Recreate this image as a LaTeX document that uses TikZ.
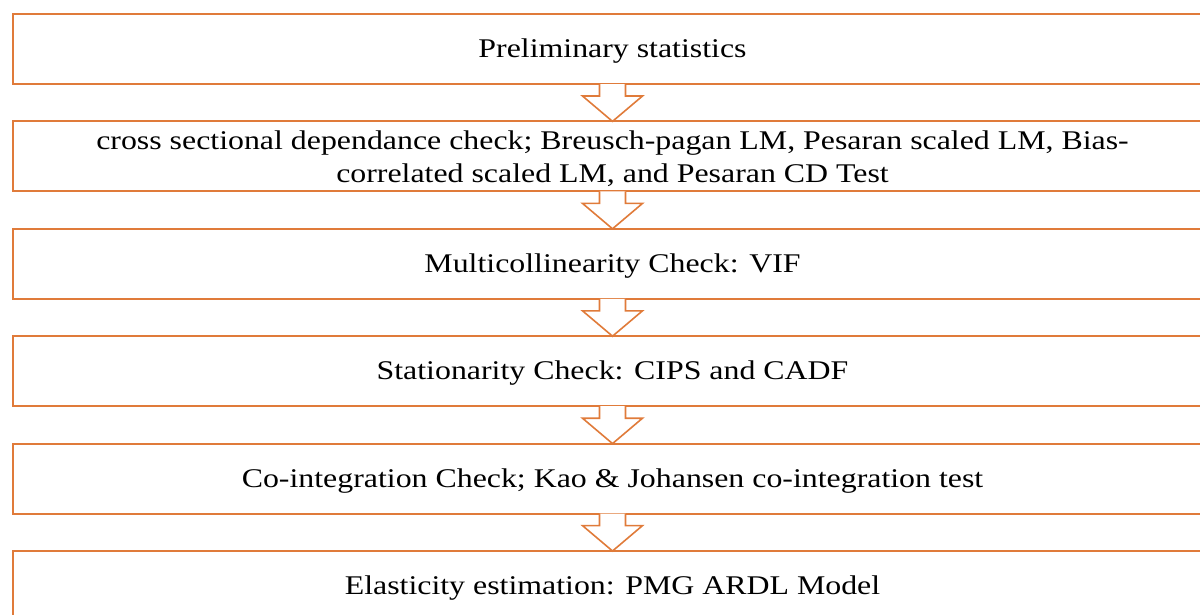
\documentclass[tikz,border=0pt]{standalone}
\usepackage{fontspec}
\usepackage{graphicx}
\setmainfont{Liberation Serif}
\usetikzlibrary{calc}
\definecolor{boxorange}{HTML}{E07B3A}
\newcommand{\widetext}[1]{\raisebox{-2pt}[\height][\depth]{\scalebox{1.18}[1]{#1}}}
\begin{document}
\begin{tikzpicture}[x=1pt,y=-1pt,
  stepbox/.style={draw=boxorange, line width=2pt, rectangle, minimum width=1200pt, minimum height=70pt, inner sep=0pt, outer sep=0pt, align=center, font=\fontsize{27}{33}\selectfont},
  flowarrow/.style={draw=boxorange, line width=1.6pt, fill=white, line join=miter}]
\useasboundingbox (0,0) rectangle (1200,614);
\clip (0,0) rectangle (1200,614);
\node[stepbox] (b1) at (612.5,49) {\widetext{Preliminary statistics}};
\node[stepbox] (b2) at (612.5,156.4) {\widetext{cross sectional dependance check; Breusch-pagan LM, Pesaran scaled LM, Bias-}\\\widetext{correlated scaled LM, and Pesaran CD Test}};
\node[stepbox] (b3) at (612.5,263.8) {\widetext{Multicollinearity Check: VIF}};
\node[stepbox] (b4) at (612.5,371.2) {\widetext{Stationarity Check: CIPS and CADF}};
\node[stepbox] (b5) at (612.5,478.6) {\widetext{Co-integration Check; Kao \& Johansen co-integration test}};
\node[stepbox] (b6) at (612.5,586) {\widetext{Elasticity estimation: PMG ARDL Model}};
\foreach \a/\b in {b1/b2,b2/b3,b3/b4,b4/b5,b5/b6}{
  \draw[flowarrow] ($(\a.south)+(-13,0)$) -- ++(0,12) -- ++(-17,0) -- ($(\b.north)$) -- ($(\a.south)+(30,12)$) -- ++(-17,0) -- ++(0,-12);
}
\end{tikzpicture}
\end{document}
